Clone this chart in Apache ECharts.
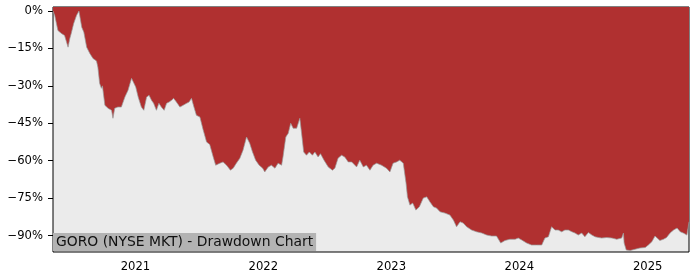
<!DOCTYPE html>
<html>
<head>
<meta charset="utf-8">
<script src="https://cdn.jsdelivr.net/npm/echarts@6/dist/echarts.min.js"></script>
<style>
html,body{margin:0;padding:0;background:#fff;}
#chart{width:700px;height:280px;}
</style>
</head>
<body>
<div id="chart"></div>
<script>
const dates = ['2020-05-11','2020-05-16','2020-05-25','2020-06-04','2020-06-13','2020-06-23','2020-06-28','2020-07-02','2020-07-09','2020-07-17','2020-07-24','2020-08-01','2020-08-07','2020-08-15','2020-08-24','2020-09-02','2020-09-12','2020-09-16','2020-09-21','2020-09-26','2020-09-29','2020-10-06','2020-10-15','2020-10-25','2020-10-29','2020-11-03','2020-11-12','2020-11-22','2020-12-02','2020-12-11','2020-12-21','2020-12-26',
'2021-01-02','2021-01-09','2021-01-18','2021-01-25','2021-02-02','2021-02-09','2021-02-16','2021-02-22','2021-03-02','2021-03-09','2021-03-16','2021-03-24','2021-03-31','2021-04-07','2021-04-14','2021-04-20','2021-04-28','2021-05-08','2021-05-17','2021-05-27','2021-06-03','2021-06-10','2021-06-17','2021-06-24','2021-07-04','2021-07-13','2021-07-23','2021-08-01','2021-08-11','2021-08-18','2021-08-30','2021-09-08','2021-09-18','2021-09-29','2021-10-07','2021-10-16','2021-10-26','2021-11-04','2021-11-14','2021-11-23','2021-12-01','2021-12-10','2021-12-20','2021-12-30',
'2022-01-05','2022-01-15','2022-01-24','2022-02-03','2022-02-12','2022-02-22','2022-02-26','2022-03-06','2022-03-13','2022-03-20','2022-03-27','2022-04-06','2022-04-15','2022-04-20','2022-04-26','2022-05-04','2022-05-12','2022-05-21','2022-05-28','2022-06-06','2022-06-13','2022-06-23','2022-07-05','2022-07-17','2022-07-24','2022-08-02','2022-08-12','2022-08-21','2022-08-31','2022-09-10','2022-09-24','2022-10-03','2022-10-13','2022-10-22','2022-11-01','2022-11-10','2022-11-20','2022-12-04','2022-12-18','2022-12-28',
'2023-01-06','2023-01-16','2023-01-25','2023-02-04','2023-02-12','2023-02-16','2023-02-23','2023-03-03','2023-03-12','2023-03-22','2023-04-02','2023-04-12','2023-04-21','2023-05-01','2023-05-10','2023-05-20','2023-06-03','2023-06-17','2023-06-27','2023-07-06','2023-07-16','2023-07-25','2023-08-04','2023-08-18','2023-09-01','2023-09-16','2023-09-30','2023-10-14','2023-10-28','2023-11-09','2023-11-21','2023-12-05','2023-12-20','2023-12-29',
'2024-01-08','2024-01-22','2024-02-05','2024-02-19','2024-03-05','2024-03-14','2024-03-24','2024-04-02','2024-04-12','2024-04-21','2024-05-01','2024-05-10','2024-05-20','2024-05-30','2024-06-08','2024-06-17','2024-06-27','2024-07-06','2024-07-16','2024-07-26','2024-08-04','2024-08-14','2024-08-23','2024-09-06','2024-09-21','2024-10-05','2024-10-19','2024-10-24','2024-10-26','2024-11-01','2024-11-12','2024-11-26','2024-12-10','2024-12-25',
'2025-01-03','2025-01-13','2025-01-22','2025-01-27','2025-02-05','2025-02-15','2025-02-24','2025-03-06','2025-03-16','2025-03-26','2025-04-04','2025-04-13','2025-04-23','2025-04-29'];

const drawdown = [0,-1.8,-7.8,-9,-9.8,-14.5,-11,-9,-5,-1.8,0,-6.5,-8.5,-14.5,-17,-19,-20,-22.5,-29,-31,-30,-37.8,-39,-39.8,-43,-39,-38.5,-38.5,-34.5,-31.8,-27,-27.8,
-30.5,-34.5,-38.5,-39.8,-34.5,-33.8,-35.8,-37,-39.8,-37,-38.5,-39.8,-37,-36.5,-35.8,-35,-36.5,-38.5,-37.8,-37,-36.5,-35,-38.5,-41.8,-42.5,-47.5,-52.5,-53.5,-58.5,-61.8,-61,-60.5,-61.8,-63.8,-63,-61,-59,-55.8,-50.5,-53,-56.5,-59.8,-61.8,-63,
-64.5,-62.5,-61.8,-63,-61,-61.8,-58.5,-50.5,-49,-45,-47,-47,-43,-49,-56.5,-57.8,-56.5,-57.8,-56.5,-58.5,-57.2,-59.8,-62.5,-63.8,-63,-59,-57.8,-58.5,-60.5,-60.5,-62.5,-59.8,-62.5,-61.8,-63.8,-61.8,-61,-61.8,-63,-64.5,
-61,-60.5,-59.8,-61,-69,-74.5,-77.8,-77,-79.8,-78.5,-75,-74.5,-76.5,-78.5,-79,-80.5,-81,-81.8,-83.8,-86.5,-84.5,-85,-86.5,-87.8,-88.5,-89,-89.8,-90.2,-90.2,-93,-92,-91.5,-91.5,-91,
-91.8,-93,-93.8,-93.8,-93.8,-91,-90.5,-86.5,-87.8,-87.8,-88.5,-87.8,-87.8,-88.5,-89,-89.8,-89,-90.5,-88.8,-89.8,-90.5,-90.8,-91,-90.8,-91,-91.5,-91,-89,-93,-95.8,-96,-95.5,-95,-94.8,
-93.8,-92.5,-90.2,-90.8,-92,-91.5,-90.8,-89,-87.8,-87,-88.5,-89,-89.8,-84.5];

const yearTicks = [2021, 2022, 2023, 2024, 2025];
const yTicks = [0, -15, -30, -45, -60, -75, -90];
const chartLabel = 'GORO (NYSE MKT) - Drawdown Chart';

function ts(s) { const p = s.split('-').map(Number); return Date.UTC(p[0], p[1] - 1, p[2]); }
const xs = dates.map(ts);
const yearTs = yearTicks.map(y => Date.UTC(y, 0, 1));
const font = 'DejaVu Sans';

const chart = echarts.init(document.getElementById('chart'));
chart.setOption({
  animation: false,
  grid: {left: 53, right: 11, top: 7, bottom: 28, show: true, backgroundColor: '#ebebeb', borderColor: '#000', borderWidth: 1},
  xAxis: {
    type: 'value',
    min: xs[0], max: xs[xs.length - 1],
    axisLine: {show: false},
    splitLine: {show: false},
    axisTick: {show: true, length: 5, lineStyle: {color: '#000'}, customValues: yearTs},
    axisLabel: {customValues: yearTs, formatter: v => String(new Date(v).getUTCFullYear()), color: '#000', fontFamily: font, fontSize: 11.6, margin: 9}
  },
  yAxis: {
    type: 'value', min: -96.6, max: 1.6,
    axisLine: {show: false},
    splitLine: {show: false},
    axisTick: {show: true, length: 5, lineStyle: {color: '#000'}, customValues: yTicks},
    axisLabel: {customValues: yTicks, formatter: v => (v < 0 ? '\u2212' : '') + Math.abs(v) + '%', color: '#000', fontFamily: font, fontSize: 11.6, margin: 10}
  },
  series: [{
    type: 'line',
    data: xs.map((x, i) => [x, drawdown[i]]),
    showSymbol: false,
    lineStyle: {color: '#9a9a9a', width: 0.7},
    areaStyle: {color: '#b03030', opacity: 1, origin: 'end'}
  }],
  title: {
    text: chartLabel, left: 53, top: 233,
    backgroundColor: '#b3b3b3', padding: [2, 3, 2, 3],
    textStyle: {fontFamily: font, fontSize: 13.9, fontWeight: 'normal', color: '#111'}
  }
});
</script>
</body>
</html>
